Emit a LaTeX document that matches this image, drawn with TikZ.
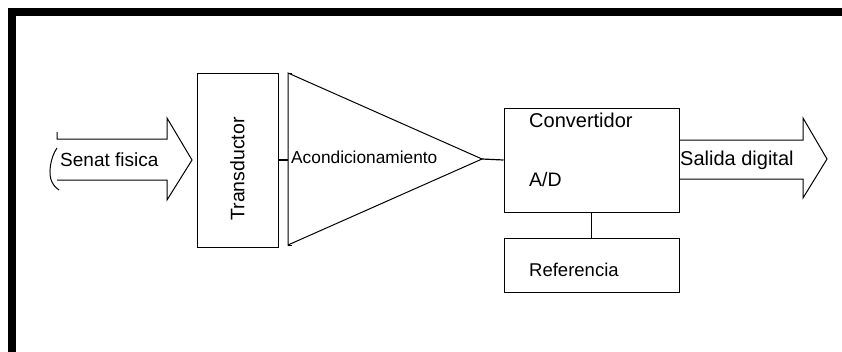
\documentclass[tikz,border=0pt]{standalone}
\usepackage{fontspec}
\setmainfont{Liberation Sans}
\usepackage{tikz}

\tikzset{
	blk/.style = {draw, line width=1pt, inner sep=0pt},
	lbl/.style = {anchor=west, inner sep=0pt, font=\fontsize{19.5}{21}\selectfont},
	wire/.style = {line width=1.2pt}
}

\begin{document}
\begin{tikzpicture}[x=1pt, y=-1pt]
	\useasboundingbox (0,0) rectangle (842,351);
	\clip (0,0) rectangle (842,351);
	\draw [line width=8pt] (846,12) -- (12,12) -- (12,356) -- (846,356);
	\draw [line width=1pt] (57,132) -- (57,139) -- (167,139) -- (167,118) -- (192,160) -- (167,200) -- (167,180) -- (57,180);
	\draw [line width=1pt] (57,148) .. controls (50,158) and (48,175) .. (52,182) .. controls (54,186) and (56,188) .. (59,190);
	\node [lbl, font=\fontsize{19}{21}\selectfont] (senal) at (60,160) {Senat fisica};
	\node [blk, minimum width=81, minimum height=174] (trans) at (237.5,160) {};
	\node [rotate=90, inner sep=0pt, font=\fontsize{19.5}{21}\selectfont] (transtxt) at (237.5,169) {Transductor};
	\coordinate (acin) at (288,160);
	\coordinate (acout) at (482,159);
	\draw [line width=1pt] (288,73) -- (acout) -- (288,245) -- cycle;
	\draw [line width=1pt] (288,73) -- (292,73);
	\draw [line width=1pt] (288,245) -- (292,245);
	\node [lbl, font=\fontsize{17.3}{19}\selectfont] (acond) at (291,157) {Acondicionamiento};
	\node [blk, minimum width=175, minimum height=104] (conv) at (591.5,160) {};
	\node [lbl, font=\fontsize{20}{22}\selectfont] (convtxt) at (529,120) {Convertidor};
	\node [lbl] (adtxt) at (529,180) {A/D};
	\node [blk, minimum width=175, minimum height=54] (ref) at (591.5,265) {};
	\node [lbl, font=\fontsize{18.5}{20}\selectfont] (reftxt) at (529,270) {Referencia};
	\draw [wire] (trans.east) -- (acin);
	\draw [wire] (acout) -- (conv.west);
	\draw [wire] (conv.south) -- (ref.north);
	\draw [line width=1pt] (conv.east |- 0,140) -- (803,140) -- (803,118) -- (827,159) -- (803,198) -- (803,179) -- (conv.east |- 0,179);
	\node [lbl, font=\fontsize{20}{22}\selectfont] (salida) at (680,160) {Salida digital};
\end{tikzpicture}
\end{document}
